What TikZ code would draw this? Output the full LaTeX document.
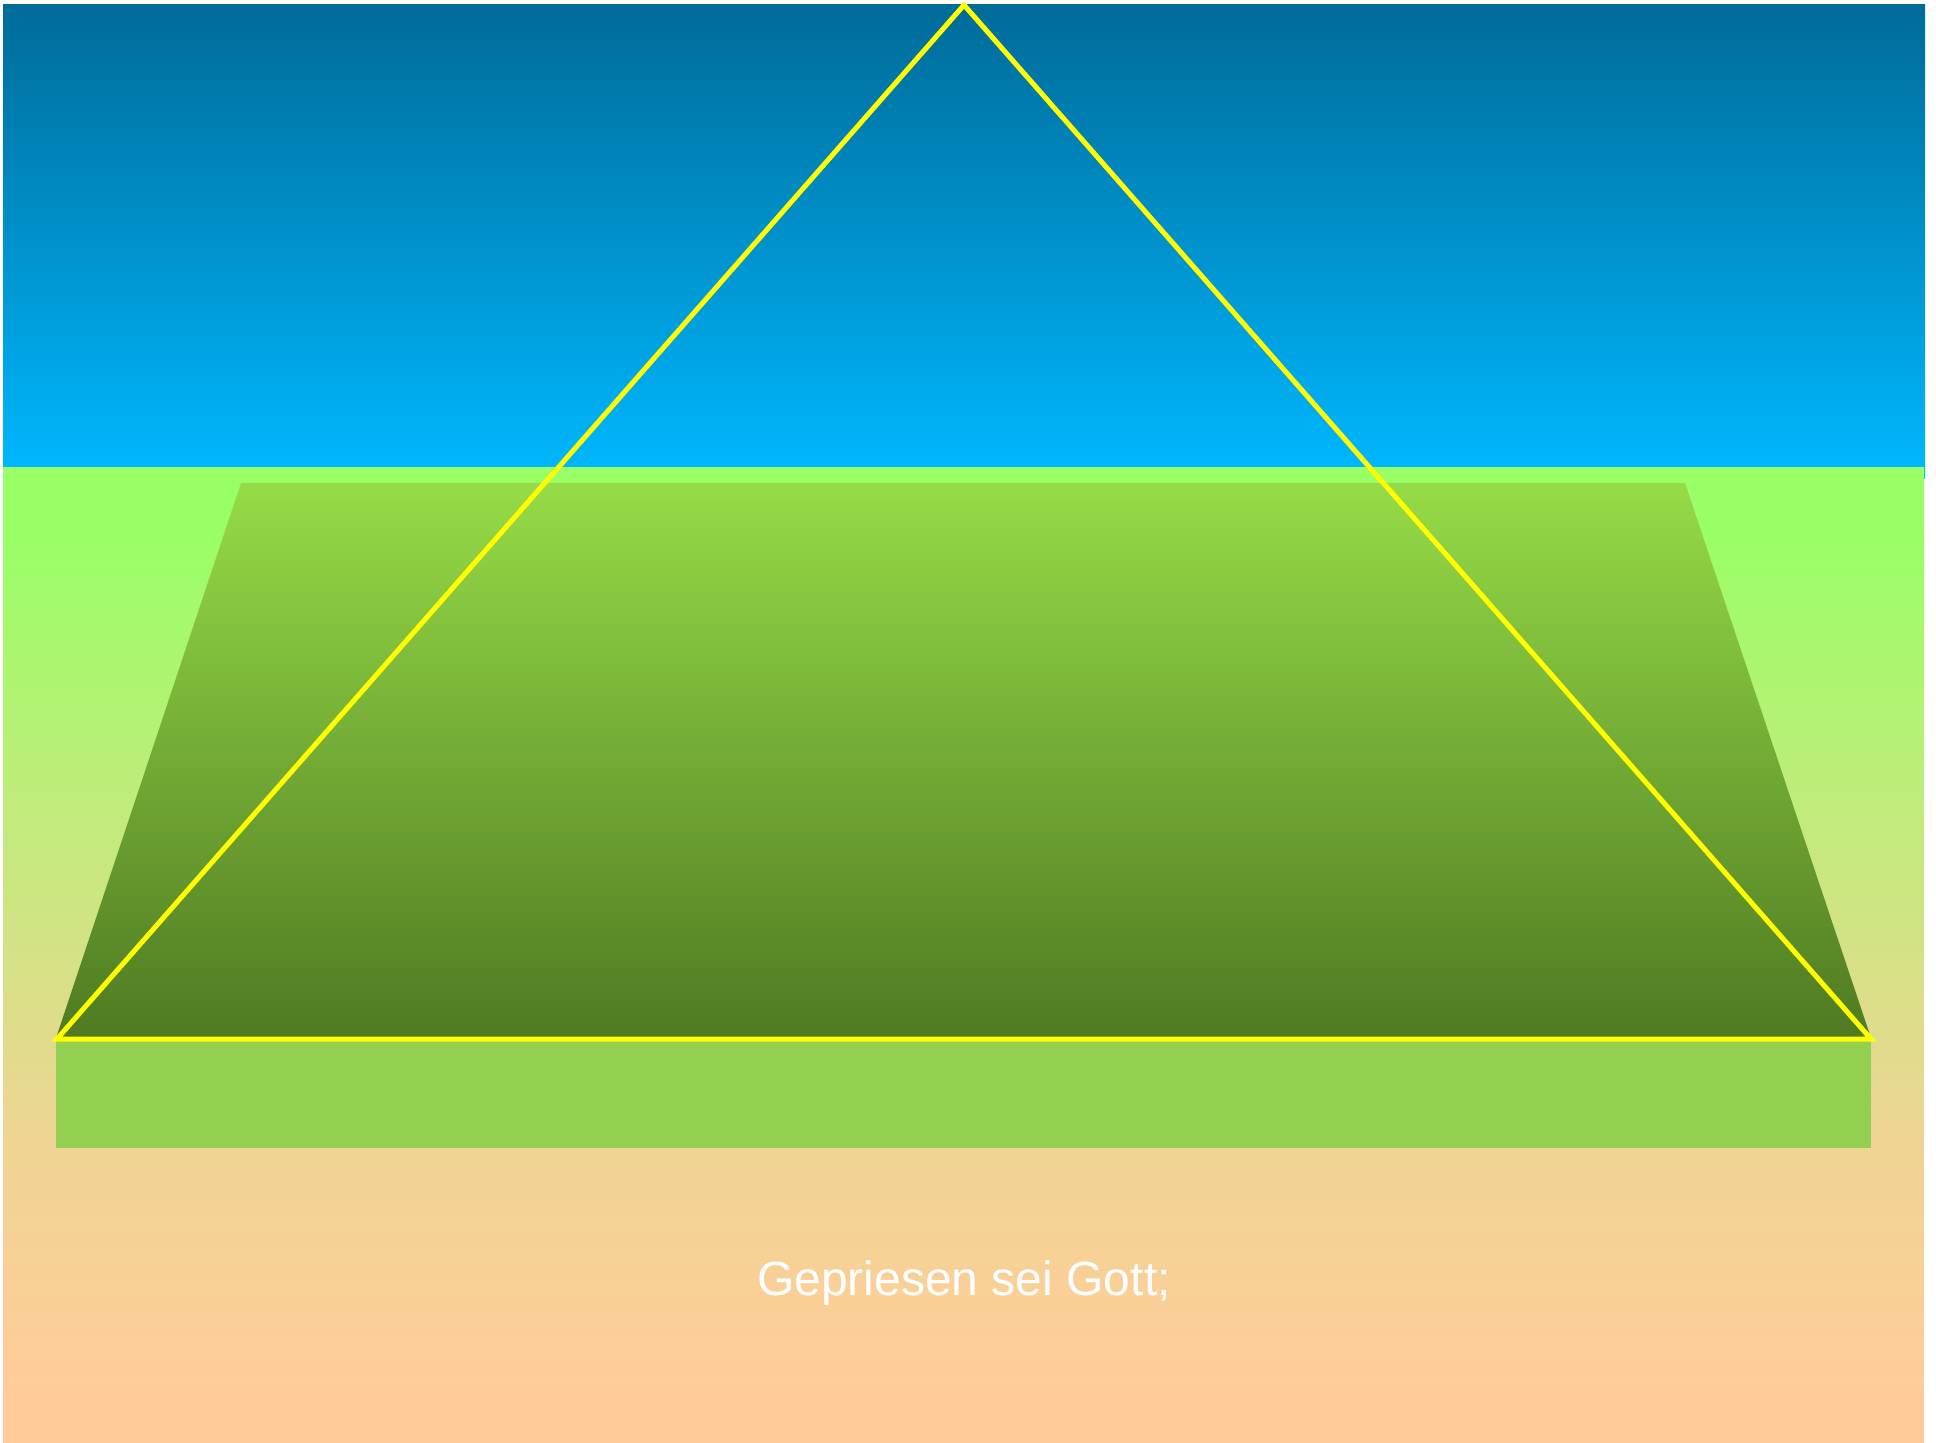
\documentclass[tikz,border=0pt]{standalone}
\usepackage{fontspec}
\setmainfont{Liberation Sans}
\definecolor{skytop}{HTML}{006B99}
\definecolor{skybot}{HTML}{00B8FF}
\definecolor{groundtop}{HTML}{99FF66}
\definecolor{groundmid}{HTML}{F0D494}
\definecolor{groundlow}{HTML}{F9D097}
\definecolor{groundbot}{HTML}{FFCC99}
\definecolor{fieldtop}{HTML}{96DB47}
\definecolor{fieldbot}{HTML}{4F7A22}
\definecolor{stripcol}{HTML}{93D052}
\definecolor{lineyellow}{HTML}{FFFF00}
\pgfdeclareverticalshading{groundshade}{100bp}{color(0bp)=(groundbot); color(27.2bp)=(groundbot); color(33.15bp)=(groundlow); color(40.1bp)=(groundmid); color(71.8bp)=(groundtop); color(100bp)=(groundtop)}
\tikzset{
  outline/.style={draw=lineyellow, line width=5pt},
  caption/.style={text=white, font=\fontsize{48}{58}\selectfont, inner sep=0pt, anchor=base}
}
\begin{document}
\begin{tikzpicture}[x=1pt,y=-1pt]
\useasboundingbox (0,0) rectangle (1936,1443);
\fill[white] (0,0) rectangle (1936,1443);
% sky
\shade[top color=skytop, bottom color=skybot] (3,4) rectangle (1925,478);
% ground
\shade[shading=groundshade] (3,467) rectangle (1924,1443);
% field trapezoid
\shade[top color=fieldtop, bottom color=fieldbot] (241,483) -- (1685,483) -- (1871,1038) -- (56,1038) -- cycle;
% strip
\fill[stripcol] (56,1038) rectangle (1871,1148);
% triangle
\coordinate (apex) at (964,5);
\coordinate (bl) at (57,1039);
\coordinate (br) at (1871,1039);
\draw[outline] (apex) -- (br) -- (bl) -- cycle;
% caption
\node[caption] (cap) at (964,1295) {Gepriesen sei Gott;};
\end{tikzpicture}
\end{document}
